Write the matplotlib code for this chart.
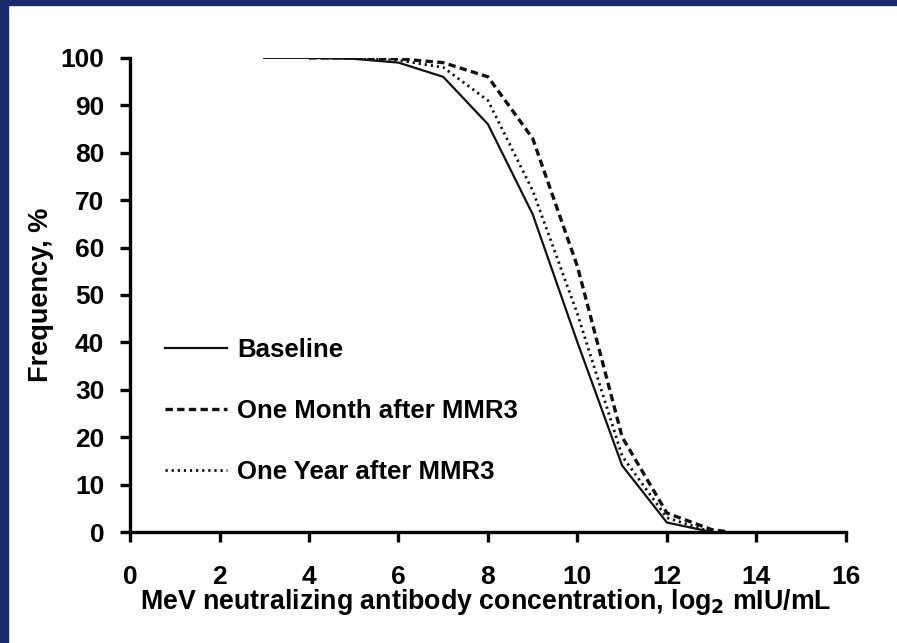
import matplotlib
matplotlib.use("Agg")
import matplotlib.pyplot as plt
from matplotlib.patches import Rectangle

plt.rcParams['font.family'] = ['Liberation Sans', 'DejaVu Sans']
plt.rcParams['font.weight'] = 'bold'

x_base = [3, 4, 5, 6, 7, 8, 9, 10, 11, 12, 13]
baseline = [100, 100, 99.8, 99, 96, 86, 67, 40, 14, 2, 0]

x_month = [4, 5, 6, 7, 8, 9, 10, 11, 12, 13, 13.4]
one_month = [100, 100, 99.8, 99, 96, 83, 56, 20, 4, 0.5, 0]

x_year = [4, 5, 6, 7, 8, 9, 10, 11, 12, 13]
one_year = [100, 100, 99.5, 98, 91, 72, 46, 16, 3, 0]

labels = ['Baseline', 'One Month after MMR3', 'One Year after MMR3']

fig = plt.figure(figsize=(8.97, 6.43), dpi=100)
ax = fig.add_axes([0.145, 0.1726, 0.798, 0.7374])

ax.plot(x_base, baseline, color='#111111', lw=1.6, ls='-', label=labels[0])
ax.plot(x_month, one_month, color='#111111', lw=2.4, ls=(0, (2.2, 1.3)), label=labels[1])
ax.plot(x_year, one_year, color='#111111', lw=2.0, ls=(0, (0.8, 1.4)), label=labels[2])

ax.set_xlim(0, 16)
ax.set_ylim(0, 100)
ax.set_xticks(range(0, 17, 2))
ax.set_yticks(range(0, 101, 10))

for s in ['top', 'right']:
    ax.spines[s].set_visible(False)
for s in ['left', 'bottom']:
    ax.spines[s].set_linewidth(2.4)
ax.tick_params(width=2.4, length=7.5, labelsize=19)
ax.tick_params(axis='x', pad=16)
ax.tick_params(axis='y', pad=11)

ax.set_xlabel(r'MeV neutralizing antibody concentration, log$_\mathbf{2}$ mIU/mL',
              fontsize=19.3, fontweight='bold', labelpad=0)
ax.xaxis.set_label_coords(0.4975, -0.115)
ax.set_ylabel('Frequency, %', fontsize=19.5, fontweight='bold', labelpad=5)

ax.legend(loc='upper left', bbox_to_anchor=(0.049, 0.409), frameon=False,
          fontsize=18.5, handlelength=2.4, labelspacing=1.44, handletextpad=0.4,
          borderaxespad=0, borderpad=0)

# navy frame on top and left edge
fig.add_artist(Rectangle((0, 1 - 5 / 643), 1, 5 / 643, transform=fig.transFigure,
                         color='#1b2a6e', zorder=10))
fig.add_artist(Rectangle((0, 0), 8 / 897, 1, transform=fig.transFigure,
                         color='#1b2a6e', zorder=10))

fig.savefig('out.png', dpi=100)
